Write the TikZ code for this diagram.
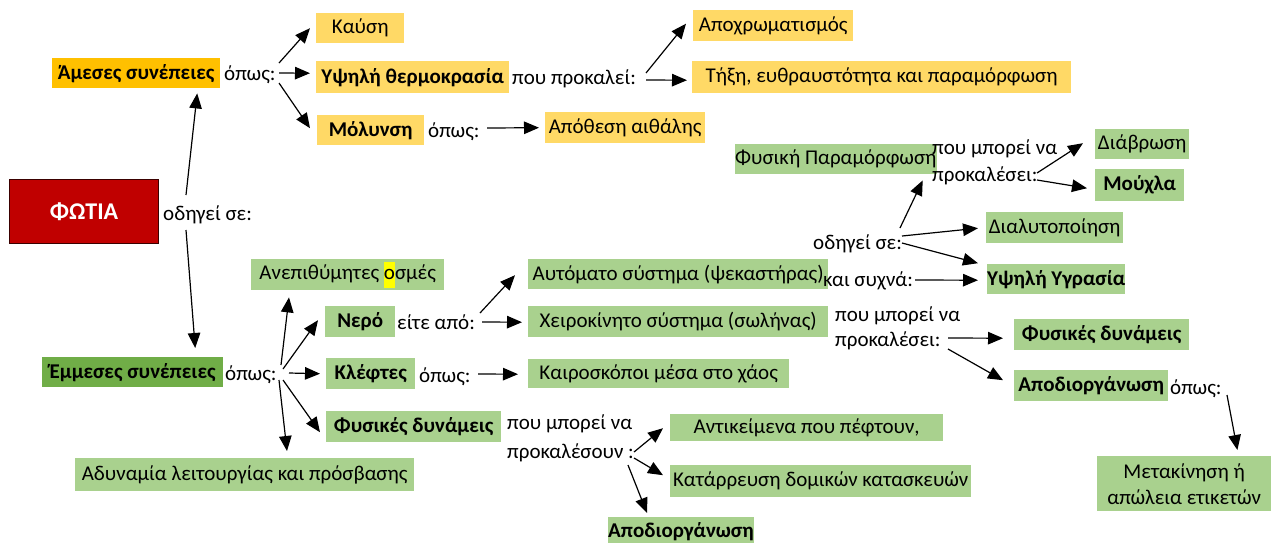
\documentclass[tikz,border=0pt]{standalone}
\usepackage{fontspec}
\setmainfont{Carlito}
\usetikzlibrary{arrows.meta,calc}
\definecolor{orangeA}{HTML}{FFC000}
\definecolor{yellowB}{HTML}{FFD966}
\definecolor{greenL}{HTML}{A9D18E}
\definecolor{greenD}{HTML}{70AD47}
\definecolor{redF}{HTML}{C00000}
\definecolor{hl}{HTML}{FFFF00}
\begin{document}
\begin{tikzpicture}[x=1pt,y=-1pt,
  font=\fontsize{21}{26}\selectfont,
  box/.style 2 args={anchor=north west, inner sep=0pt, align=center,
    minimum width=#1, minimum height=#2},
  ybox/.style 2 args={box={#1}{#2}, fill=yellowB},
  gbox/.style 2 args={box={#1}{#2}, fill=greenL},
  bold/.style={font=\fontsize{21}{26}\selectfont\bfseries},
  lbl/.style={anchor=base west, inner sep=0pt},
  lbl2/.style={anchor=base west, inner sep=0pt, align=left},
  arr/.style={-{Triangle[length=15pt,width=12.5pt]}, line width=1.2pt}]
\useasboundingbox (0,0) rectangle (1271,542);

% ---------- main node ----------
\node[box={149pt}{64pt}, fill=redF, draw=black!70!redF, line width=1pt,
      text=white, font=\fontsize{24}{28}\selectfont\bfseries] (fotia) at (9,179) {ΦΩΤΙΑ};
\node[lbl] (odigei1) at (163,220) {οδηγεί σε:};

% ---------- direct consequences ----------
\node[box={168pt}{30pt}, fill=orangeA, bold] (amesa) at (52,58) {Άμεσες συνέπειες};
\node[lbl] (opos1) at (224,80) {όπως:};
\node[ybox={88pt}{30pt}] (kausi) at (316,13) {Καύση};
\node[ybox={193pt}{32pt}, bold] (thermo) at (316,61) {Υψηλή θερμοκρασία};
\node[ybox={107pt}{30pt}, bold] (molynsi) at (317,115) {Μόλυνση};
\node[lbl] (prokalei) at (512,84) {που προκαλεί:};
\node[lbl] (opos2) at (428,137) {όπως:};
\node[ybox={160pt}{31pt}] (apoxr) at (693,10) {Αποχρωματισμός};
\node[ybox={379pt}{32pt}] (tixi) at (692,61) {Τήξη, ευθραυστότητα και παραμόρφωση};
\node[ybox={160pt}{31pt}] (aithali) at (545,112) {Απόθεση αιθάλης};

% ---------- indirect consequences ----------
\node[box={181pt}{30pt}, fill=greenD, bold] (emmesa) at (42,357) {Έμμεσες συνέπειες};
\node[lbl] (opos3) at (225,380) {όπως:};
\node[gbox={193pt}{31pt}] (osmes) at (251,259) {Ανεπιθύμητες {\setlength{\fboxsep}{0pt}\colorbox{hl}{\strut ο}}σμές};
\node[gbox={70pt}{31pt}, bold] (nero) at (325,306) {Νερό};
\node[gbox={89pt}{31pt}, bold] (kleftes) at (326,358) {Κλέφτες};
\node[gbox={175pt}{31pt}, bold] (fysdyn) at (326,411) {Φυσικές δυνάμεις};
\node[gbox={339pt}{33pt}] (adyn) at (75,458) {Αδυναμία λειτουργίας και πρόσβασης};
\node[lbl] (eite) at (397,329) {είτε από:};
\node[lbl] (opos4) at (419,382) {όπως:};
\node[gbox={300pt}{30pt}] (autom) at (528,259) {Αυτόματο σύστημα (ψεκαστήρας)};
\node[gbox={300pt}{31pt}] (xeiro) at (528,306) {Χειροκίνητο σύστημα (σωλήνας)};
\node[gbox={261pt}{29pt}] (kairo) at (528,359) {Καιροσκόποι μέσα στο χάος};
\node[lbl2, font=\fontsize{21}{29}\selectfont] (pmn1) at (507,458) {που μπορεί να\\προκαλέσουν :};
\node[gbox={273pt}{27pt}] (antik) at (670,414) {Αντικείμενα που πέφτουν,};
\node[gbox={301pt}{32pt}] (katar) at (670,465) {Κατάρρευση δομικών κατασκευών};
\node[gbox={143pt}{28pt}, bold] (apod1) at (608,517) {Αποδιοργάνωση};

% ---------- water damage ----------
\node[lbl] (odigei2) at (813,249) {οδηγεί σε:};
\node[lbl] (kaisyxna) at (823,286) {και συχνά:};
\node[gbox={191pt}{30pt}] (fyspar) at (735,144) {Φυσική Παραμόρφωση};
\node[lbl2, font=\fontsize{21}{27}\selectfont] (pmn2) at (932,181) {που μπορεί να\\προκαλέσει:};
\node[gbox={94pt}{30pt}] (diavr) at (1095,129) {Διάβρωση};
\node[gbox={89pt}{32pt}, bold] (mouxla) at (1095,169) {Μούχλα};
\node[gbox={137pt}{31pt}] (dialyt) at (986,212) {Διαλυτοποίηση};
\node[gbox={136pt}{30pt}, bold] (ygrasia) at (987,264) {Υψηλή Υγρασία};
\node[lbl2, font=\fontsize{21}{25}\selectfont] (pmn3) at (835,346) {που μπορεί να\\προκαλέσει:};
\node[gbox={175pt}{31pt}, bold] (fysdyn2) at (1014,319) {Φυσικές δυνάμεις};
\node[gbox={154pt}{31pt}, bold] (apod2) at (1014,370) {Αποδιοργάνωση};
\node[lbl] (opos5) at (1170,394) {όπως:};
\node[gbox={174pt}{55pt}] (metak) at (1097,456) {Μετακίνηση ή\\απώλεια ετικετών};

% ---------- connector start points ----------
\coordinate (s1) at (279,63);
\coordinate (s2) at (279,73);
\coordinate (s3) at (279,83);
\coordinate (s4) at (646,73);
\coordinate (s5) at (646,80);
\coordinate (s6) at (487,128);
\coordinate (s7) at (186,195);
\coordinate (s8) at (186,230);
\coordinate (s9) at (281,365);
\coordinate (s10) at (283,369);
\coordinate (s11) at (289,373);
\coordinate (s12) at (283,380);
\coordinate (s13) at (279,380);
\coordinate (s14) at (480,313);
\coordinate (s15) at (482,322);
\coordinate (s16) at (478,374);
\coordinate (s17) at (634,452);
\coordinate (s18) at (634,458);
\coordinate (s19) at (628,465);
\coordinate (s20) at (1037,173);
\coordinate (s21) at (1037,180);
\coordinate (s22) at (900,228);
\coordinate (s23) at (902,236);
\coordinate (s24) at (902,243);
\coordinate (s25) at (915,280);
\coordinate (s26) at (948,338);
\coordinate (s27) at (948,349);
\coordinate (s28) at (1227,395);

% ---------- connectors ----------
\draw[arr] (s1) -- ($(kausi.west)+(-6,0)$);
\draw[arr] (s2) -- ($(thermo.west)+(-6,-4)$);
\draw[arr] (s3) -- ($(molynsi.west)+(-7,-2)$);
\draw[arr] (s4) -- ($(apoxr.west)+(-7,-2)$);
\draw[arr] (s5) -- ($(tixi.west)+(-5,3)$);
\draw[arr] (s6) -- ($(aithali.west)+(-6,0)$);
\draw[arr] (s7) -- ($(amesa.south)+(61,5)$);
\draw[arr] (s8) -- ($(emmesa.north)+(62.5,-9)$);
\draw[arr] (s9) -- ($(osmes.south west)+(38,7)$);
\draw[arr] (s10) -- ($(nero.west)+(-7,-1.5)$);
\draw[arr] (s11) -- ($(kleftes.west)+(-6,0)$);
\draw[arr] (s12) -- ($(fysdyn.west)+(-6,5.5)$);
\draw[arr] (s13) -- ($(adyn.north west)+(212,-7)$);
\draw[arr] (s14) -- ($(autom.west)+(-13,1)$);
\draw[arr] (s15) -- ($(xeiro.west)+(-6,0.5)$);
\draw[arr] (s16) -- ($(kairo.west)+(-10,0.5)$);
\draw[arr] (s17) -- ($(antik.west)+(-7,0.5)$);
\draw[arr] (s18) -- ($(katar.west)+(-7,-6)$);
\draw[arr] (s19) -- ($(apod1.north west)+(39,-4)$);
\draw[arr] (s20) -- ($(diavr.west)+(-12,-1)$);
\draw[arr] (s21) -- ($(mouxla.west)+(-8,3)$);
\draw[arr] (s22) -- ($(fyspar.south east)+(-14,6)$);
\draw[arr] (s23) -- ($(dialyt.west)+(-8,0.5)$);
\draw[arr] (s24) -- ($(ygrasia.west)+(-9,-16)$);
\draw[arr] (s25) -- ($(ygrasia.west)+(-9,1)$);
\draw[arr] (s26) -- ($(fysdyn2.west)+(-11,3.5)$);
\draw[arr] (s27) -- ($(apod2.west)+(-11,-5.5)$);
\draw[arr] (s28) -- ($(metak.north east)+(-34,-6)$);
\end{tikzpicture}
\end{document}
